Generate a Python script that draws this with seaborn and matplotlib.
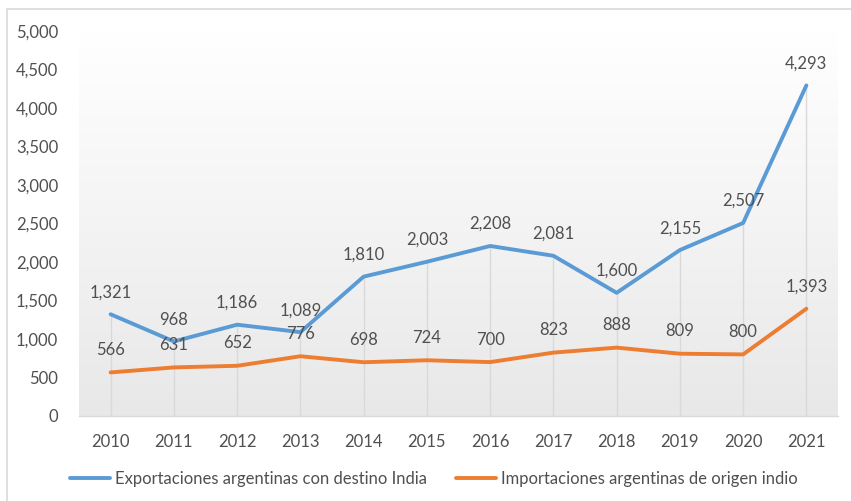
import numpy as np
import pandas as pd
import matplotlib
matplotlib.use("Agg")
import matplotlib.pyplot as plt
from matplotlib.lines import Line2D
import seaborn as sns

years = [2010, 2011, 2012, 2013, 2014, 2015, 2016, 2017, 2018, 2019, 2020, 2021]
exportaciones = [1321, 968, 1186, 1089, 1810, 2003, 2208, 2081, 1600, 2155, 2507, 4293]
importaciones = [566, 631, 652, 776, 698, 724, 700, 823, 888, 809, 800, 1393]
serie_exp = "Exportaciones argentinas con destino India"
serie_imp = "Importaciones argentinas de origen indio"
y_ticks = [0, 500, 1000, 1500, 2000, 2500, 3000, 3500, 4000, 4500, 5000]

BLUE = "#5B9BD5"
ORANGE = "#ED7D31"
TEXT = "#505050"
GRID = "#d9d9d9"
FS = 12

sns.set_theme(style="white")
plt.rcParams["font.family"] = ["Lato", "DejaVu Sans"]

df = pd.DataFrame({
    "year": years * 2,
    "value": exportaciones + importaciones,
    "serie": [serie_exp] * len(years) + [serie_imp] * len(years),
})

W, H = 851, 501
fig = plt.figure(figsize=(W / 100, H / 100), dpi=100)
left, right, bottom_px, top_px = 79, 838, 416, 31
ax = fig.add_axes([left / W, (H - bottom_px) / H, (right - left) / W, (bottom_px - top_px) / H])

ax.set_xlim(2009.5, 2021.5)
ax.set_ylim(0, 5000)

# vertical gradient behind the plot area
grad = np.linspace(1.0, 0.0, 256).reshape(-1, 1)
top_c = np.array([1.0, 1.0, 1.0])
bot_c = np.array([0.91, 0.91, 0.91])
img = top_c * grad[..., None] + bot_c * (1 - grad[..., None])
ax.imshow(img, extent=[2009.5, 2021.5, 0, 5000], aspect="auto", origin="upper", zorder=0)

# drop lines from the highest point down to the axis
tops = np.maximum(exportaciones, importaciones)
ax.vlines(years, 0, tops, color=GRID, lw=1, zorder=1)

sns.lineplot(data=df, x="year", y="value", hue="serie",
             palette={serie_exp: BLUE, serie_imp: ORANGE},
             linewidth=2.8, ax=ax, legend=False, zorder=3)

for x, v in zip(years, exportaciones):
    ax.annotate(f"{v:,}", (x, v), xytext=(0, 10), textcoords="offset points",
                ha="center", va="bottom", fontsize=FS, color=TEXT, zorder=4)
for x, v in zip(years, importaciones):
    ax.annotate(f"{v:,}", (x, v), xytext=(0, 10.5), textcoords="offset points",
                ha="center", va="bottom", fontsize=FS, color=TEXT, zorder=4)

ax.set_xticks(years)
ax.set_xticklabels([str(y) for y in years])
ax.set_yticks(y_ticks)
ax.set_yticklabels([f"{t:,}" for t in y_ticks])
ax.tick_params(axis="both", length=0, labelsize=FS, colors=TEXT)
ax.tick_params(axis="x", pad=13)
ax.tick_params(axis="y", pad=15)
ax.set_xlabel("")
ax.set_ylabel("")
for s in ["top", "right", "left"]:
    ax.spines[s].set_visible(False)
ax.spines["bottom"].set_color(GRID)
ax.spines["bottom"].set_linewidth(1)
ax.spines["bottom"].set_zorder(2)

handles = [Line2D([0], [0], color=BLUE, lw=2.8), Line2D([0], [0], color=ORANGE, lw=2.8)]
fig.legend(handles, [serie_exp, serie_imp], loc="center", bbox_to_anchor=(0.51, (H - 479) / H),
           ncol=2, frameon=False, fontsize=FS, labelcolor=TEXT, handlelength=2.4,
           handletextpad=0.3, columnspacing=1.7)

# chart frame
fig.add_artist(Line2D([7 / W, 7 / W, 1.0], [0.0, (H - 9) / H, (H - 9) / H],
                      transform=fig.transFigure, color=GRID, lw=1.2))

fig.savefig("out.png", dpi=100)
